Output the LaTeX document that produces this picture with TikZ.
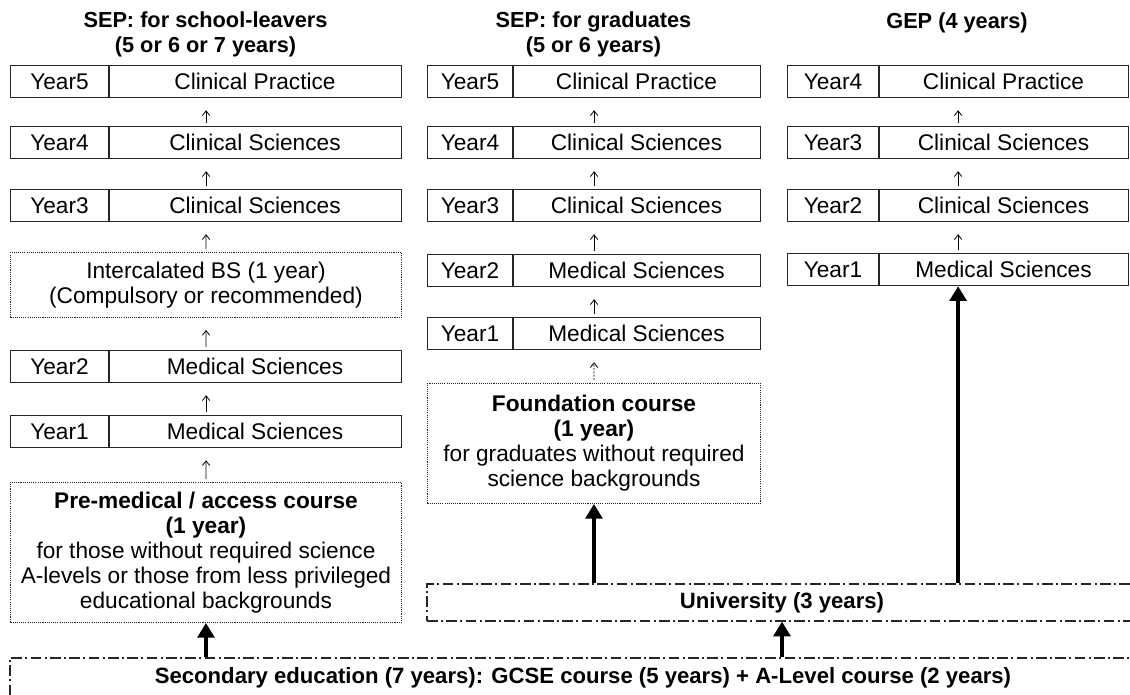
\documentclass[tikz,border=0pt]{standalone}
\usepackage{fontspec}
\setmainfont{Liberation Sans}
\usetikzlibrary{arrows.meta}
\newcommand{\px}{0.75pt}
\tikzset{
  rowbox/.style={draw=black!85, line width=0.9pt, inner sep=0pt, anchor=north west, minimum height=32*\px},
  notebox/.style={draw=black!85, line width=0.7pt, dash pattern=on 0.8pt off 0.8pt, inner sep=0pt, anchor=north west, align=center},
  levelbox/.style={draw=black!85, line width=0.9pt, dash pattern=on 8pt off 2.5pt on 1.5pt off 2.5pt, inner sep=0pt, font=\bfseries\fontsize{16.6}{19}\selectfont},
  ttl/.style={align=center, font=\bfseries\fontsize{16.3}{18.75}\selectfont},
  stepar/.style={line width=0.6pt, -{Straight Barb[length=3.5pt,width=5.5pt]}, shorten <=2.25pt, shorten >=9pt},
  bigar/.style={line width=3pt, -{Triangle[length=11pt,width=12.5pt]}}
}
% one year row: name, left, divider, right, top, year, subject
\newcommand{\yrow}[7]{%
  \node[rowbox, minimum width=(#4-#2)*\px] (#1) at (#2,#5) {};
  \draw[line width=0.9pt, black!85] (#3,#5) -- (#3,#5+32);
  \node[anchor=base] (#1y) at ({(#2+#3)/2},#5+24) {#6};
  \node[anchor=base] (#1s) at ({(#3+#4)/2},#5+24) {#7};
}
\begin{document}
\begin{tikzpicture}[x=0.75pt, y=-0.75pt, font=\fontsize{17}{18.75}\selectfont]
\useasboundingbox (0,0) rectangle (1130,694);
\clip (0,0) rectangle (1130,694);

% titles
\node[ttl] (ta) at (205.5,34.5) {SEP: for school-leavers\\(5 or 6 or 7 years)};
\node[ttl] (tb) at (593.5,34.5) {SEP: for graduates\\(5 or 6 years)};
\node[ttl] (tc) at (957,23) {GEP (4 years)};

% SEP for school-leavers
\yrow{a5}{10}{109}{401}{65}{Year5}{Clinical Practice}
\yrow{a4}{10}{109}{401}{126}{Year4}{Clinical Sciences}
\yrow{a3}{10}{109}{401}{189}{Year3}{Clinical Sciences}
\node[notebox, minimum width=391*\px, minimum height=65*\px] (ai) at (10,252) {Intercalated BS (1 year)\\(Compulsory or recommended)};
\yrow{a2}{10}{109}{401}{350}{Year2}{Medical Sciences}
\yrow{a1}{10}{109}{401}{415}{Year1}{Medical Sciences}
\node[notebox, minimum width=391*\px, minimum height=140*\px] (ap) at (10,482) {\textbf{Pre-medical / access course}\\\textbf{(1 year)}\\for those without required science\\A-levels or those from less privileged\\educational backgrounds};

% SEP for graduates
\yrow{b5}{427}{513}{760}{65}{Year5}{Clinical Practice}
\yrow{b4}{427}{513}{760}{126}{Year4}{Clinical Sciences}
\yrow{b3}{427}{513}{760}{189}{Year3}{Clinical Sciences}
\yrow{b2}{427}{513}{760}{254}{Year2}{Medical Sciences}
\yrow{b1}{427}{513}{760}{317}{Year1}{Medical Sciences}
\node[notebox, minimum width=333*\px, minimum height=120*\px] (bf) at (427,383) {\textbf{Foundation course}\\\textbf{(1 year)}\\for graduates without required\\science backgrounds};

% GEP
\yrow{c4}{787}{879}{1128}{65}{Year4}{Clinical Practice}
\yrow{c3}{787}{879}{1128}{126}{Year3}{Clinical Sciences}
\yrow{c2}{787}{879}{1128}{189}{Year2}{Clinical Sciences}
\yrow{c1}{787}{879}{1128}{253}{Year1}{Medical Sciences}

% University and secondary education
\node[levelbox, minimum width=710*\px, minimum height=37*\px] (uni) at (782,602.5) {University (3 years)};
\node[levelbox, minimum width=1146*\px, minimum height=40*\px] (sec) at (583,678) {Secondary education (7 years): GCSE course (5 years) + A-Level course (2 years)};

% year to year
\draw[stepar] (a4) -- (a5);
\draw[stepar] (a3) -- (a4);
\draw[stepar] (ai) -- (a3);
\draw[stepar] (a2) -- (ai);
\draw[stepar] (a1) -- (a2);
\draw[stepar] (ap) -- (a1);
\draw[stepar] (b4) -- (b5);
\draw[stepar] (b3) -- (b4);
\draw[stepar] (b2) -- (b3);
\draw[stepar] (b1) -- (b2);
\draw[stepar, dash pattern=on 1.5pt off 1pt] (bf) -- (b1);
\draw[stepar] (c3) -- (c4);
\draw[stepar] (c2) -- (c3);
\draw[stepar] (c1) -- (c2);

% entry routes
\draw[bigar] (ap.south |- sec.north) -- (ap.south);
\draw[bigar] (uni.south |- sec.north) -- (uni.south);
\draw[bigar] (bf.south |- uni.north) -- (bf.south);
\draw[bigar] (c1.south |- uni.north) -- (c1.south);
\end{tikzpicture}
\end{document}
